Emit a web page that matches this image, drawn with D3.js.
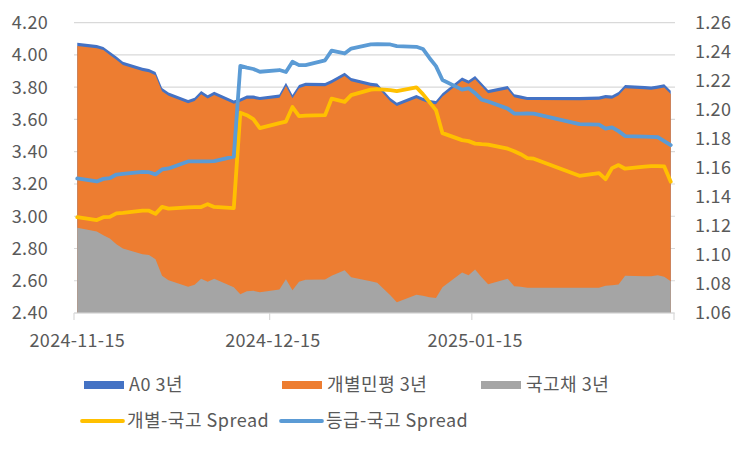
<!DOCTYPE html>
<html>
<head>
<meta charset="utf-8">
<script src="https://cdn.jsdelivr.net/npm/d3@7"></script>
<style>
  html, body { margin: 0; padding: 0; background: #fff; }
  svg text { font-family: "Noto Sans CJK KR", "Noto Sans", sans-serif; fill: #595959; }
</style>
</head>
<body>
<svg id="chart" width="750" height="450"></svg>
<script>
const dates = ["2024-11-15","2024-11-18","2024-11-19","2024-11-20","2024-11-21","2024-11-22",
  "2024-11-25","2024-11-26","2024-11-27","2024-11-28","2024-11-29",
  "2024-12-02","2024-12-03","2024-12-04","2024-12-05","2024-12-06",
  "2024-12-09","2024-12-10","2024-12-11","2024-12-12","2024-12-13",
  "2024-12-16","2024-12-17","2024-12-18","2024-12-19","2024-12-20",
  "2024-12-23","2024-12-24","2024-12-26","2024-12-27","2024-12-30","2024-12-31",
  "2025-01-02","2025-01-03","2025-01-06","2025-01-07","2025-01-08","2025-01-09","2025-01-10",
  "2025-01-13","2025-01-14","2025-01-15","2025-01-16","2025-01-17",
  "2025-01-20","2025-01-21","2025-01-22","2025-01-23","2025-01-24","2025-01-31",
  "2025-02-03","2025-02-04","2025-02-05","2025-02-06","2025-02-07",
  "2025-02-10","2025-02-11","2025-02-12","2025-02-13","2025-02-14"];

const a0Yield = [4.076,4.062,4.050,4.020,3.990,3.958,3.920,3.913,3.894,3.795,3.767,
  3.720,3.735,3.776,3.750,3.772,3.717,3.730,3.748,3.748,3.740,
  3.755,3.828,3.751,3.813,3.828,3.826,3.845,3.890,3.857,3.828,3.823,
  3.733,3.703,3.751,3.735,3.720,3.714,3.763,3.860,3.841,3.869,3.826,3.782,
  3.807,3.757,3.748,3.740,3.740,3.739,3.742,3.751,3.748,3.770,3.813,
  3.807,3.804,3.810,3.818,3.778];

const indivYield = [4.056,4.042,4.030,4.000,3.970,3.938,3.900,3.893,3.874,3.775,3.747,
  3.700,3.715,3.756,3.730,3.752,3.697,3.710,3.728,3.728,3.720,
  3.735,3.808,3.731,3.793,3.808,3.806,3.825,3.870,3.837,3.808,3.803,
  3.713,3.683,3.731,3.715,3.700,3.694,3.743,3.840,3.821,3.849,3.806,3.762,
  3.787,3.737,3.728,3.720,3.720,3.719,3.722,3.731,3.728,3.750,3.793,
  3.787,3.784,3.790,3.798,3.758];

const ktbYield = [2.929,2.905,2.882,2.862,2.826,2.800,2.764,2.760,2.733,2.631,2.603,
  2.562,2.575,2.613,2.594,2.613,2.559,2.516,2.535,2.538,2.528,
  2.545,2.609,2.541,2.594,2.606,2.607,2.631,2.665,2.621,2.597,2.587,
  2.510,2.466,2.513,2.507,2.497,2.493,2.559,2.651,2.634,2.669,2.621,2.578,
  2.613,2.566,2.562,2.557,2.557,2.556,2.556,2.569,2.572,2.576,2.631,
  2.628,2.628,2.634,2.625,2.597];

const spreadIndiv = [1.1260,1.1240,1.1260,1.1262,1.1286,1.1290,1.1305,1.1305,1.1283,1.1331,1.1319,
  1.1327,1.1330,1.1330,1.1350,1.1331,1.1322,1.1980,1.1963,1.1936,1.1874,
  1.1908,1.1919,1.2019,1.1957,1.1960,1.1963,1.2077,1.2055,1.2101,1.2139,1.2143,
  1.2136,1.2129,1.2155,1.2108,1.2053,1.1998,1.1839,1.1791,1.1784,1.1767,1.1763,1.1760,
  1.1732,1.1715,1.1694,1.1667,1.1663,1.1545,1.1563,1.1522,1.1598,1.1619,1.1594,
  1.1608,1.1612,1.1612,1.1610,1.1505];

const spreadGrade = [1.1527,1.1506,1.1524,1.1529,1.1554,1.1559,1.1572,1.1570,1.1555,1.1589,1.1596,
  1.1644,1.1645,1.1645,1.1645,1.1646,1.1677,1.2303,1.2291,1.2281,1.2262,
  1.2274,1.2260,1.2331,1.2308,1.2308,1.2341,1.2408,1.2388,1.2422,1.2450,1.2453,
  1.2450,1.2439,1.2434,1.2419,1.2357,1.2301,1.2205,1.2139,1.2148,1.2115,1.2070,1.2057,
  1.2008,1.1974,1.1974,1.1975,1.1974,1.1901,1.1898,1.1870,1.1879,1.1853,1.1819,
  1.1815,1.1814,1.1812,1.1784,1.1757];

const leftTicks = [2.40,2.60,2.80,3.00,3.20,3.40,3.60,3.80,4.00,4.20];
const rightTicks = [1.06,1.08,1.10,1.12,1.14,1.16,1.18,1.20,1.22,1.24,1.26];
const xTickDates = ["2024-11-15","2024-12-15","2025-01-15","2025-02-15"];
const xTickLabels = ["2024-11-15","2024-12-15","2025-01-15",""];

const seriesNames = ["A0 3년","개별민평 3년","국고채 3년","개별-국고 Spread","등급-국고 Spread"];
const colors = ["#4472C4","#ED7D31","#A5A5A5","#FFC000","#5B9BD5"];

const parse = d3.timeParse("%Y-%m-%d");
const half = d => d3.timeHour.offset(parse(d), 12);

const svg = d3.select("#chart");
const plot = { left: 74, right: 674, top: 22.7, bottom: 313 };

const x = d3.scaleTime()
  .domain([parse("2024-11-15"), parse("2025-02-15")])
  .range([plot.left, plot.right]);
const yL = d3.scaleLinear().domain([2.40, 4.20]).range([plot.bottom, plot.top]);
const yR = d3.scaleLinear().domain([1.06, 1.26]).range([plot.bottom, plot.top]);

// gridlines
svg.append("g").selectAll("line").data(leftTicks).join("line")
  .attr("x1", plot.left).attr("x2", plot.right + 1)
  .attr("y1", d => yL(d)).attr("y2", d => yL(d))
  .attr("stroke", "#D9D9D9").attr("stroke-width", 1.2);

// areas
const rows = dates.map((d, i) => ({ t: half(d), a0: a0Yield[i], ind: indivYield[i], ktb: ktbYield[i], s1: spreadIndiv[i], s2: spreadGrade[i] }));
const areaFor = key => d3.area().x(d => x(d.t)).y0(yL(2.40)).y1(d => yL(d[key]));
[["a0", colors[0]], ["ind", colors[1]], ["ktb", colors[2]]].forEach(([k, c]) => {
  svg.append("path").datum(rows).attr("d", areaFor(k)).attr("fill", c);
});

// x axis line and ticks
svg.append("line").attr("x1", plot.left).attr("x2", plot.right)
  .attr("y1", plot.bottom).attr("y2", plot.bottom).attr("stroke", "#D9D9D9").attr("stroke-width", 1.2);
const xt = svg.append("g");
xt.selectAll("line").data(xTickDates).join("line")
  .attr("x1", d => x(parse(d))).attr("x2", d => x(parse(d)))
  .attr("y1", plot.bottom).attr("y2", plot.bottom + 7)
  .attr("stroke", "#D9D9D9").attr("stroke-width", 1.2);
xt.selectAll("text").data(xTickDates).join("text")
  .attr("x", d => x(half(d)))
  .attr("y", 347)
  .attr("text-anchor", "middle")
  .attr("font-size", 18)
  .attr("letter-spacing", 0.3)
  .text((d, i) => xTickLabels[i]);

// lines
const lineFor = key => d3.line().x(d => x(d.t)).y(d => yR(d[key]));
[["s1", colors[3]], ["s2", colors[4]]].forEach(([k, c]) => {
  svg.append("path").datum(rows).attr("d", lineFor(k))
    .attr("fill", "none").attr("stroke", c).attr("stroke-width", 3.8)
    .attr("stroke-linejoin", "round").attr("stroke-linecap", "round");
});

// left axis labels
svg.append("g").selectAll("text").data(leftTicks).join("text")
  .attr("x", 48).attr("y", d => yL(d)).attr("dy", "0.36em")
  .attr("text-anchor", "end").attr("font-size", 18).attr("letter-spacing", 0.3)
  .text(d => d3.format(".2f")(d));

// right axis labels
svg.append("g").selectAll("text").data(rightTicks).join("text")
  .attr("x", 695).attr("y", d => yR(d)).attr("dy", "0.36em")
  .attr("text-anchor", "start").attr("font-size", 18).attr("letter-spacing", 0.3)
  .text(d => d3.format(".2f")(d));

// legend
const legendItems = [
  { name: seriesNames[0], color: colors[0], type: "box", x: 84, y: 385 },
  { name: seriesNames[1], color: colors[1], type: "box", x: 282, y: 385 },
  { name: seriesNames[2], color: colors[2], type: "box", x: 481, y: 385 },
  { name: seriesNames[3], color: colors[3], type: "line", x: 82, y: 421 },
  { name: seriesNames[4], color: colors[4], type: "line", x: 281, y: 421 }
];
const lg = svg.append("g").selectAll("g").data(legendItems).join("g");
lg.filter(d => d.type === "box").append("rect")
  .attr("x", d => d.x).attr("y", d => d.y - 4).attr("width", 40).attr("height", 8)
  .attr("fill", d => d.color);
lg.filter(d => d.type === "line").append("line")
  .attr("x1", d => d.x).attr("x2", d => d.x + 41).attr("y1", d => d.y).attr("y2", d => d.y)
  .attr("stroke", d => d.color).attr("stroke-width", 3.8).attr("stroke-linecap", "round");
lg.append("text")
  .attr("x", d => d.x + 45).attr("y", d => d.y).attr("dy", "0.36em")
  .attr("font-size", 18).attr("letter-spacing", 0.5)
  .text(d => d.name);
</script>
</body>
</html>
